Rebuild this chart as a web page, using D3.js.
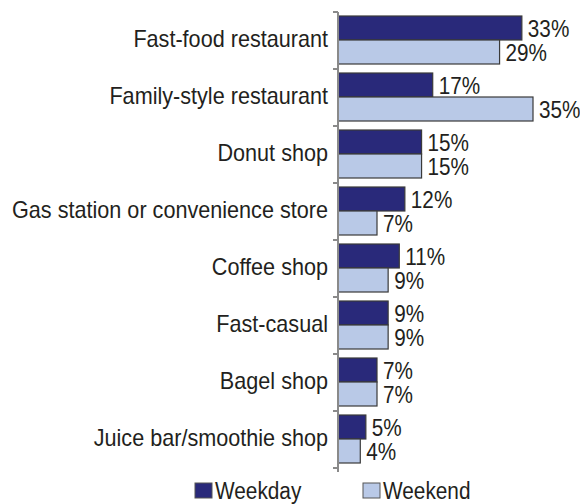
<!DOCTYPE html>
<html>
<head>
<meta charset="utf-8">
<script src="https://cdn.jsdelivr.net/npm/d3@7"></script>
<style>
  html, body { margin: 0; padding: 0; background: #fff; }
  svg text {
    font-family: "Liberation Sans", Arial, sans-serif;
    fill: #231f20;
  }
</style>
</head>
<body>
<svg id="chart" width="580" height="504"></svg>
<script>
const categories = [
  "Fast-food restaurant",
  "Family-style restaurant",
  "Donut shop",
  "Gas station or convenience store",
  "Coffee shop",
  "Fast-casual",
  "Bagel shop",
  "Juice bar/smoothie shop"
];
const weekday = [33, 17, 15, 12, 11, 9, 7, 5];
const weekend = [29, 35, 15, 7, 9, 9, 7, 4];
const seriesNames = ["Weekday", "Weekend"];
const seriesColors = ["#29297a", "#b9c9e7"];

const svg = d3.select("#chart");
const fontSize = 23;

// Places a text at (px, py) with a horizontally condensed glyph shape
const at = (px, py, k) => `translate(${px},${py}) scale(${k},1)`;

const x = d3.scaleLinear().domain([0, 35]).range([338, 533]);
const y = d3.scaleBand().domain(categories).range([12, 468]);
const ySub = d3.scaleBand().domain(seriesNames).range([4, 52]);

const rows = categories.map((c, i) => ({ cat: c, vals: [weekday[i], weekend[i]] }));

// Bars
const groups = svg.append("g").selectAll("g")
  .data(rows).join("g")
  .attr("transform", d => `translate(0,${y(d.cat)})`);

groups.selectAll("rect")
  .data(d => d.vals.map((v, j) => ({ v, s: seriesNames[j], j })))
  .join("rect")
  .attr("x", x(0))
  .attr("y", d => ySub(d.s))
  .attr("width", d => x(d.v) - x(0))
  .attr("height", ySub.bandwidth())
  .attr("fill", d => seriesColors[d.j])
  .attr("stroke", "#3a3a3a")
  .attr("stroke-width", 1.2);

groups.selectAll("text.val")
  .data(d => d.vals.map((v, j) => ({ v, s: seriesNames[j], j })))
  .join("text")
  .attr("class", "val")
  .attr("transform", d => at(x(d.v) + 6, ySub(d.s) + ySub.bandwidth() / 2 + 8.5, 0.9))
  .attr("font-size", fontSize)
  .text(d => d.v + "%");

// Axis with ticks at category boundaries
const axisG = svg.append("g");
axisG.append("line")
  .attr("x1", x(0)).attr("x2", x(0))
  .attr("y1", y.range()[0]).attr("y2", y.range()[1] + 4)
  .attr("stroke", "#8a8a8a").attr("stroke-width", 2);
const bounds = categories.map(c => y(c)).concat([y.range()[1]]);
axisG.selectAll("line.tick")
  .data(bounds).join("line")
  .attr("class", "tick")
  .attr("x1", x(0) - 5).attr("x2", x(0))
  .attr("y1", d => d).attr("y2", d => d)
  .attr("stroke", "#8a8a8a").attr("stroke-width", 2);

// Category labels
svg.append("g").selectAll("text")
  .data(categories).join("text")
  .attr("transform", d => at(328, y(d) + y.bandwidth() / 2 + 6.5, 0.94))
  .attr("text-anchor", "end")
  .attr("font-size", fontSize)
  .text(d => d);

// Legend
const legendX = [195, 363];
const legend = svg.append("g").selectAll("g")
  .data(seriesNames).join("g")
  .attr("transform", (d, i) => `translate(${legendX[i]},483)`);
legend.append("rect")
  .attr("width", 17).attr("height", 15)
  .attr("fill", (d, i) => seriesColors[i])
  .attr("stroke", "#555").attr("stroke-width", 1);
legend.append("text")
  .attr("transform", at(20, 15.5, 0.905))
  .attr("font-size", fontSize)
  .text(d => d);
</script>
</body>
</html>
